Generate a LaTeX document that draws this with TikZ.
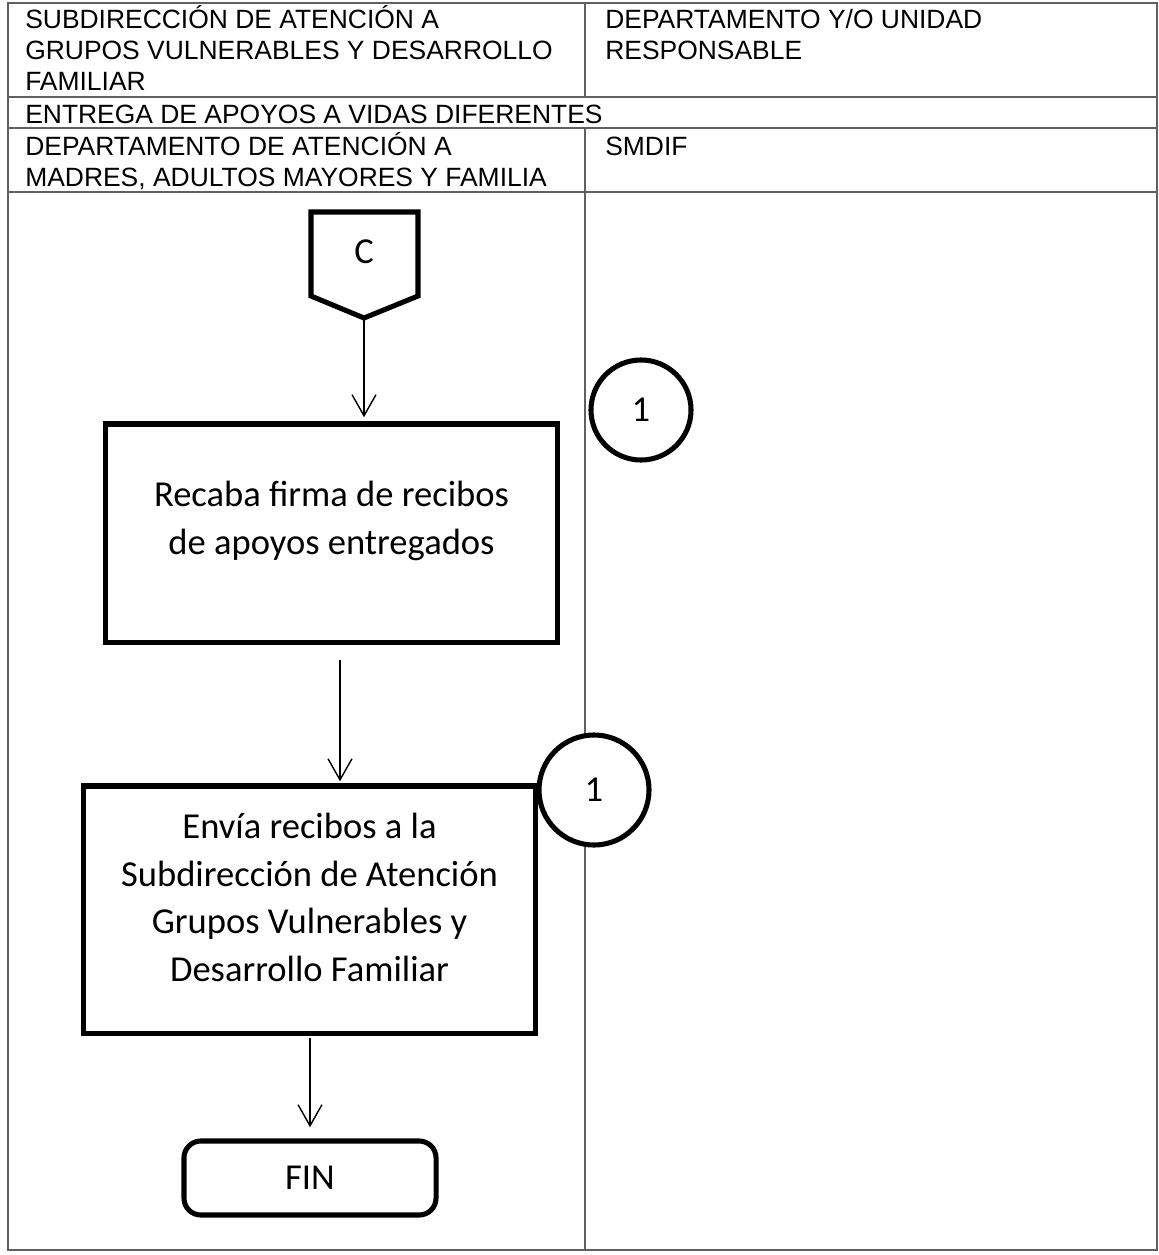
\documentclass[tikz,border=0pt]{standalone}
\usepackage{fontspec}
\setmainfont{Liberation Sans}
\newfontfamily\flowfont{Carlito}
\usetikzlibrary{arrows.meta}

\begin{document}
\begin{tikzpicture}[x=0.025cm,y=-0.025cm,
    grid/.style={draw=gray!75!black,line width=0.9pt},
    head/.style={anchor=north west,inner sep=0pt,align=left,
      font=\fontsize{18.8}{22}\selectfont,execute at begin node=\vphantom{Ó}},
    box/.style={draw,line width=3.6pt,fill=white},
    txt/.style={align=center,font=\flowfont\fontsize{26}{34}\selectfont},
    conn/.style={circle,box,minimum size=2.5cm,inner sep=0pt,
      font=\flowfont\fontsize{26}{30}\selectfont},
    flow/.style={line width=1pt,-{Straight Barb[length=15pt,width=17pt,line width=1pt]}}]
  \useasboundingbox (0,0) rectangle (1158,1255);

  % cuadro del encabezado
  \draw[grid] (8,3) -- (1157,3) -- (1157,1250) -- (8,1250) -- cycle;
  \draw[grid] (8,97) -- (1157,97);
  \draw[grid] (8,128) -- (1157,128);
  \draw[grid] (8,192) -- (1157,192);
  \draw[grid] (585,3) -- (585,97);
  \draw[grid] (585,128) -- (585,1250);

  \node[head] (sub) at (25,5) {SUBDIRECCIÓN DE ATENCIÓN A\\GRUPOS VULNERABLES Y DESARROLLO\\FAMILIAR};
  \node[head] (dep) at (605,9) {DEPARTAMENTO Y/O UNIDAD\\RESPONSABLE};
  \node[head] (ent) at (25,100) {ENTREGA DE APOYOS A VIDAS DIFERENTES};
  \node[head] (mad) at (25,132) {DEPARTAMENTO DE ATENCIÓN A\\MADRES, ADULTOS MAYORES Y FAMILIA};
  \node[head] (smd) at (605,132) {SMDIF};

  % conector de pagina
  \node[txt] (c) at (364,252) {C};
  \draw[line width=3.6pt,line join=miter] (311,212) -- (418,212) -- (418,296)
    -- (364,318) coordinate (ctip) -- (311,296) -- cycle;

  \node[box,minimum width=11.275cm,minimum height=5.45cm,
    label={[txt,yshift=0.3cm]center:{Recaba firma de recibos\\de apoyos entregados}}]
    (recaba) at (331.5,533) {};
  \node[box,minimum width=11.275cm,minimum height=6.175cm,
    label={[txt,yshift=0.3cm]center:{Envía recibos a la\\Subdirección de Atención\\Grupos Vulnerables y\\Desarrollo Familiar}}]
    (envia) at (309.5,909.5) {};
  \node[box,rounded corners=12pt,minimum width=6.3cm,minimum height=1.85cm,
    font=\flowfont\fontsize{26}{30}\selectfont] (fin) at (310,1178) {FIN};

  \node[conn] (uno) at (641,410) {1};
  \node[conn,minimum size=2.75cm] (dos) at (594,790) {1};

  \draw[flow] (ctip) -- ([yshift=3pt]ctip |- recaba.north);
  \draw[flow] ([yshift=-11pt]recaba.south -| 340,0) -- ([yshift=1.5pt]envia.north -| 340,0);
  \draw[flow] ([yshift=-2pt]envia.south -| 310,0) -- ([yshift=8pt]fin.north);
\end{tikzpicture}
\end{document}
